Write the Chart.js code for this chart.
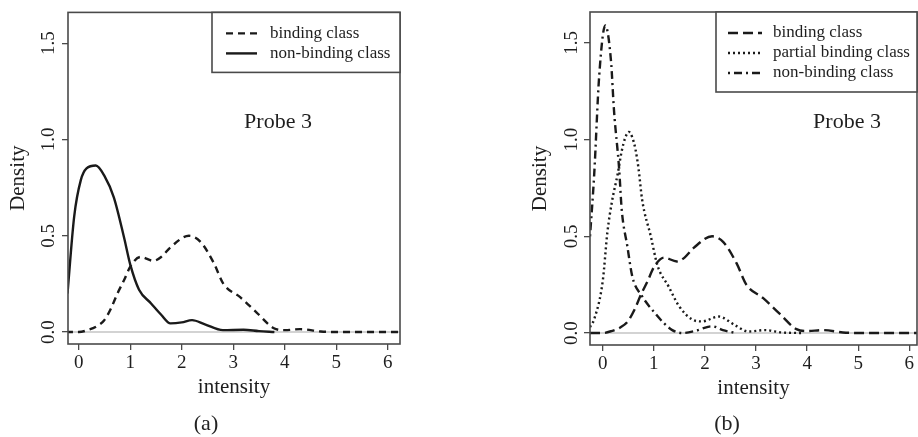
<!DOCTYPE html>
<html>
<head>
<meta charset="utf-8">
<script src="https://cdn.jsdelivr.net/npm/chart.js@4.4.0/dist/chart.umd.min.js"></script>
<style>
body { margin: 0; background: #fff; width: 918px; height: 437px; overflow: hidden; position: relative; font-family: "Liberation Serif", serif; }
.panel { position: absolute; top: 0; width: 459px; height: 437px; }
.cap { position: absolute; top: 408px; font-size: 22px; line-height: 30px; color: #222; transform: translateX(-50%); }
</style>
</head>
<body>
<div class="panel" style="left:0"><canvas id="chartA"></canvas></div>
<div class="panel" style="left:459px"><canvas id="chartB"></canvas></div>
<div class="cap" style="left:206px">(a)</div>
<div class="cap" style="left:727px">(b)</div>
<script>
// density curves (x = intensity, y = density)
const bindingX = [-0.25, 0, 0.17, 0.35, 0.49, 0.62, 0.75, 0.88, 1.0, 1.2, 1.45, 1.6, 1.78, 2.14, 2.36, 2.62, 2.81, 3.14, 3.46, 3.79, 4.0, 4.3, 4.7, 5.0, 5.5, 6.0, 6.3];
const bindingY = [0, 0, 0.01, 0.03, 0.06, 0.12, 0.2, 0.27, 0.34, 0.39, 0.37, 0.39, 0.44, 0.50, 0.47, 0.36, 0.25, 0.18, 0.10, 0.02, 0.01, 0.015, 0.003, 0, 0, 0, 0];

const nonBindingAX = [-0.22, -0.09, 0.04, 0.15, 0.33, 0.5, 0.68, 0.88, 1.0, 1.17, 1.4, 1.6, 1.78, 2.0, 2.2, 2.45, 2.8, 3.2, 3.5, 3.8];
const nonBindingAY = [0.2, 0.6, 0.79, 0.85, 0.865, 0.81, 0.70, 0.49, 0.35, 0.22, 0.15, 0.09, 0.045, 0.05, 0.062, 0.04, 0.01, 0.012, 0.005, 0];

const partialX = [-0.25, -0.17, 0.0, 0.09, 0.18, 0.29, 0.37, 0.44, 0.51, 0.58, 0.64, 0.7, 0.77, 0.94, 1.07, 1.29, 1.49, 1.75, 1.94, 2.27, 2.59, 2.85, 3.18, 3.5, 3.9];
const partialY = [0.03, 0.07, 0.27, 0.52, 0.68, 0.82, 0.94, 1.01, 1.04, 1.01, 0.95, 0.85, 0.69, 0.50, 0.35, 0.24, 0.14, 0.07, 0.06, 0.085, 0.04, 0.008, 0.015, 0.003, 0];

const nonBindingBX = [-0.25, -0.17, -0.07, 0.05, 0.16, 0.22, 0.32, 0.37, 0.48, 0.58, 0.77, 1.03, 1.2, 1.36, 1.55, 1.8, 2.14, 2.35, 2.6];
const nonBindingBY = [0.5, 0.81, 1.33, 1.59, 1.41, 1.15, 0.85, 0.64, 0.45, 0.29, 0.19, 0.10, 0.05, 0.015, 0, 0.01, 0.035, 0.015, 0];

const xTicks = [0, 1, 2, 3, 4, 5, 6];
const yTicks = [0, 0.5, 1.0, 1.5];

const SERIF = '"Liberation Serif", "Times New Roman", serif';
const INK = '#1a1a1a';
const FRAME = '#4a4a4a';
const TXT = '#1e1e1e';

function pts(xs, ys) {
    return xs.map((x, i) => ({ x: x, y: ys[i] }));
}

function curve(label, xs, ys, dash) {
    return {
        label: label,
        data: pts(xs, ys),
        borderColor: INK,
        borderWidth: 2.4,
        borderDash: dash,
        pointRadius: 0,
        fill: false,
        cubicInterpolationMode: 'monotone'
    };
}

// frame box, zero line, in-plot legend and the "Probe 3" note
const framePlugin = {
    id: 'frame',
    beforeDatasetsDraw(chart) {
        const { ctx, chartArea: a, scales: { y } } = chart;
        const y0 = y.getPixelForValue(0);
        ctx.save();
        ctx.strokeStyle = '#c4c4c4';
        ctx.lineWidth = 1.5;
        ctx.beginPath();
        ctx.moveTo(a.left, y0);
        ctx.lineTo(a.right, y0);
        ctx.stroke();
        ctx.restore();
    },
    afterDraw(chart, args, opts) {
        const { ctx, chartArea: a } = chart;
        ctx.save();
        ctx.strokeStyle = FRAME;
        ctx.lineWidth = 1.6;
        ctx.strokeRect(a.left, a.top, a.width, a.height);

        const lg = opts.legend;
        ctx.fillStyle = '#fff';
        ctx.fillRect(lg.left, a.top, a.right - lg.left, lg.height);
        ctx.strokeRect(lg.left, a.top, a.right - lg.left, lg.height);
        ctx.font = '17px ' + SERIF;
        ctx.textBaseline = 'middle';
        ctx.textAlign = 'left';
        chart.data.datasets.forEach((ds, i) => {
            const yy = a.top + lg.firstRow + i * lg.rowGap;
            ctx.strokeStyle = INK;
            ctx.lineWidth = ds.borderWidth;
            ctx.setLineDash(ds.borderDash || []);
            ctx.beginPath();
            ctx.moveTo(lg.left + lg.sampleOff, yy);
            ctx.lineTo(lg.left + lg.sampleOff + lg.sampleLen, yy);
            ctx.stroke();
            ctx.setLineDash([]);
            ctx.fillStyle = TXT;
            ctx.fillText(ds.label, lg.left + lg.textOff, yy);
        });

        ctx.font = '22px ' + SERIF;
        ctx.textAlign = 'center';
        ctx.fillStyle = TXT;
        ctx.fillText(opts.note.text, opts.note.x, opts.note.y);
        ctx.restore();
    }
};

function makeChart(id, datasets, o) {
    return new Chart(document.getElementById(id), {
        type: 'line',
        data: { datasets: datasets },
        plugins: [framePlugin],
        options: {
            responsive: true,
            maintainAspectRatio: false,
            animation: false,
            events: [],
            layout: { padding: o.padding },
            plugins: {
                legend: { display: false },
                tooltip: { enabled: false },
                frame: { legend: o.legend, note: o.note }
            },
            scales: {
                x: {
                    type: 'linear',
                    min: o.xMin,
                    max: o.xMax,
                    afterBuildTicks: s => { s.ticks = xTicks.map(v => ({ value: v })); },
                    border: { display: false },
                    grid: { drawOnChartArea: false, drawTicks: true, tickLength: 6, color: FRAME, lineWidth: 1.3 },
                    ticks: { includeBounds: false, padding: 2, color: TXT, maxRotation: 0, font: { family: SERIF, size: 19 }, callback: v => String(v) },
                    title: { display: true, text: 'intensity', color: TXT, padding: 0, font: { family: SERIF, size: 21 } },
                    afterFit: s => { s.height = 56; }
                },
                y: {
                    type: 'linear',
                    min: o.yMin,
                    max: o.yMax,
                    afterBuildTicks: s => { s.ticks = yTicks.map(v => ({ value: v })); },
                    border: { display: false },
                    grid: { drawOnChartArea: false, drawTicks: true, tickLength: 6, color: FRAME, lineWidth: 1.3 },
                    ticks: { includeBounds: false, padding: o.yTickPad, minRotation: 90, maxRotation: 90, crossAlign: 'center', color: TXT, font: { family: SERIF, size: 19 }, callback: v => v.toFixed(1) },
                    title: { display: true, text: 'Density', color: TXT, padding: 0, font: { family: SERIF, size: 21 } },
                    afterFit: s => { s.width = 62; }
                }
            }
        }
    });
}

makeChart('chartA', [
    curve('binding class', bindingX, bindingY, [7, 5]),
    curve('non-binding class', nonBindingAX, nonBindingAY, [])
], {
    padding: { left: 6, top: 11, right: 59, bottom: 37 },
    xMin: -0.21, xMax: 6.24, yMin: -0.062, yMax: 1.66, yTickPad: 1,
    legend: { left: 212, height: 60, firstRow: 21, rowGap: 20, sampleOff: 14, sampleLen: 31, textOff: 58 },
    note: { text: 'Probe 3', x: 278, y: 122 }
});

makeChart('chartB', [
    curve('binding class', bindingX, bindingY, [10, 5]),
    curve('partial binding class', partialX, partialY, [2, 3]),
    curve('non-binding class', nonBindingBX, nonBindingBY, [2, 4, 8, 4])
], {
    padding: { left: 69, top: 12, right: 1, bottom: 36 },
    xMin: -0.25, xMax: 6.15, yMin: -0.062, yMax: 1.66, yTickPad: 0,
    legend: { left: 257, height: 80, firstRow: 21, rowGap: 20, sampleOff: 12, sampleLen: 34, textOff: 57 },
    note: { text: 'Probe 3', x: 388, y: 122 }
});
</script>
</body>
</html>
